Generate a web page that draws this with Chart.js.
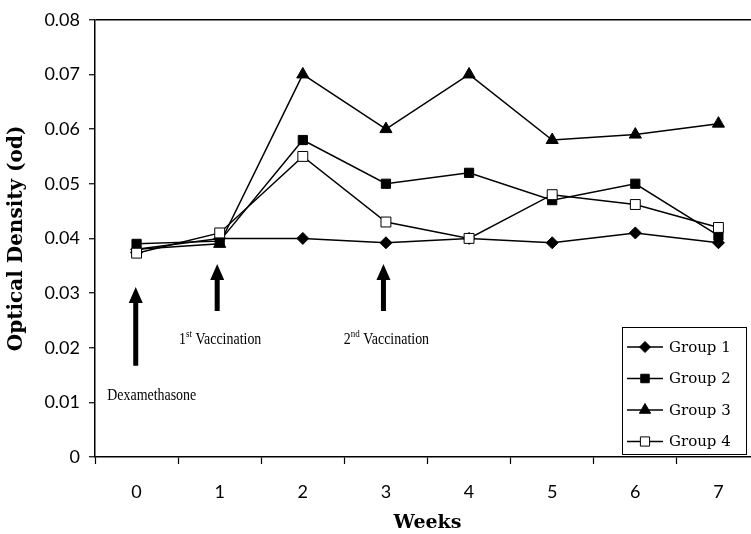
<!DOCTYPE html>
<html lang="en">
<head>
<meta charset="UTF-8">
<title>Optical Density by Week</title>
<script src="https://cdn.jsdelivr.net/npm/chart.js"></script>
<style>
  html, body { margin: 0; padding: 0; background: #fff; overflow: hidden; }
  #wrap { width: 770px; height: 534px; }
</style>
</head>
<body>
<div id="wrap"><canvas id="odChart"></canvas></div>
<script>
// data
const weeks = ['0', '1', '2', '3', '4', '5', '6', '7'];
const group1 = [0.0380, 0.0400, 0.0400, 0.0392, 0.0400, 0.0392, 0.0410, 0.0392];
const group2 = [0.0390, 0.0395, 0.0580, 0.0500, 0.0520, 0.0470, 0.0500, 0.0405];
const group3 = [0.0380, 0.0390, 0.0700, 0.0600, 0.0700, 0.0580, 0.0590, 0.0610];
const group4 = [0.0373, 0.0410, 0.0550, 0.0430, 0.0400, 0.0480, 0.0462, 0.0420];
const groupNames = ['Group 1', 'Group 2', 'Group 3', 'Group 4'];
const yTickLabels = ['0', '0.01', '0.02', '0.03', '0.04', '0.05', '0.06', '0.07', '0.08'];

// arrow annotations (week index, od values)
const noteMain = ['Dexamethasone', '1', '2'];
const noteSup = ['', 'st', 'nd'];
const noteRest = ['', ' Vaccination', ' Vaccination'];
const noteWeek = [-0.01, 0.97, 2.97];
const noteTip = [0.0311, 0.0353, 0.0353];
const noteTail = [0.0167, 0.0267, 0.0267];
const noteLabel = [0.0115, 0.0218, 0.0218];

const markers = [
  { style: 'rectRot', radius: 6, fill: '#000' },
  { style: 'rect', radius: 6.5, fill: '#000' },
  { style: 'triangle', radius: 7, fill: '#000' },
  { style: 'rect', radius: 7, fill: '#fff' }
];

const seriesData = [group1, group2, group3, group4];
const datasets = seriesData.map((vals, i) => ({
  label: groupNames[i],
  data: vals,
  borderColor: '#000',
  borderWidth: 1.5,
  backgroundColor: markers[i].fill,
  pointStyle: markers[i].style,
  pointRadius: markers[i].radius,
  pointBackgroundColor: markers[i].fill,
  pointBorderColor: '#000',
  pointBorderWidth: 1,
  tension: 0,
  fill: false,
  order: 3 - i
}));

function drawArrow(ctx, x, yTip, yTail) {
  const shaft = 5, headW = 14, headH = 16;
  ctx.beginPath();
  ctx.rect(x - shaft / 2, yTip + headH - 1, shaft, yTail - yTip - headH + 1);
  ctx.moveTo(x, yTip);
  ctx.lineTo(x + headW / 2, yTip + headH);
  ctx.lineTo(x - headW / 2, yTip + headH);
  ctx.closePath();
  ctx.fill();
}

const notesPlugin = {
  id: 'notes',
  afterDatasetsDraw(chart) {
    const ctx = chart.ctx;
    const xs = chart.scales.x, ys = chart.scales.y;
    const squeeze = 0.82;
    ctx.save();
    ctx.fillStyle = '#000';
    noteMain.forEach((txt, i) => {
      const x = xs.getPixelForValue(0) + noteWeek[i] * (xs.getPixelForValue(1) - xs.getPixelForValue(0));
      drawArrow(ctx, x, ys.getPixelForValue(noteTip[i]), ys.getPixelForValue(noteTail[i]));
      const ly = ys.getPixelForValue(noteLabel[i]);
      ctx.textBaseline = 'alphabetic';
      const big = '17px "Liberation Serif"', small = '11px "Liberation Serif"';
      ctx.font = big;
      const w1 = ctx.measureText(txt).width;
      const w3 = ctx.measureText(noteRest[i]).width;
      ctx.font = small;
      const w2 = ctx.measureText(noteSup[i]).width;
      const total = (w1 + w2 + w3) * squeeze;
      const startX = x + (i === 0 ? 16 : 3) - total / 2;
      ctx.save();
      ctx.translate(startX, 0);
      ctx.scale(squeeze, 1);
      let cx = 0;
      ctx.font = big;
      ctx.fillText(txt, cx, ly + 6);
      cx += w1;
      ctx.font = small;
      ctx.fillText(noteSup[i], cx, ly - 1);
      cx += w2;
      ctx.font = big;
      ctx.fillText(noteRest[i], cx, ly + 6);
      ctx.restore();
    });
    ctx.restore();
  }
};

const legendPlugin = {
  id: 'boxLegend',
  afterDraw(chart) {
    const ctx = chart.ctx;
    const bx = 622, by = 327, bw = 124, bh = 127, rowH = 31.5;
    ctx.save();
    ctx.fillStyle = '#fff';
    ctx.fillRect(bx, by, bw, bh);
    ctx.strokeStyle = '#000';
    ctx.lineWidth = 1;
    ctx.strokeRect(bx + 0.5, by + 0.5, bw, bh);
    chart.data.datasets.forEach((ds, i) => {
      const cy = by + 20 + i * rowH;
      ctx.beginPath();
      ctx.moveTo(bx + 5, cy);
      ctx.lineTo(bx + 41, cy);
      ctx.lineWidth = 1.5;
      ctx.strokeStyle = '#000';
      ctx.stroke();
      ctx.fillStyle = ds.pointBackgroundColor;
      ctx.lineWidth = 1;
      Chart.helpers.drawPoint(ctx, { pointStyle: ds.pointStyle, radius: ds.pointRadius - 0.5, borderWidth: 1 }, bx + 23, cy);
      ctx.fillStyle = '#000';
      ctx.font = '15px "DejaVu Serif"';
      ctx.textBaseline = 'middle';
      ctx.fillText(ds.label, bx + 47, cy + 1);
    });
    ctx.restore();
  }
};

new Chart(document.getElementById('odChart'), {
  type: 'line',
  data: { labels: weeks, datasets },
  options: {
    responsive: true,
    maintainAspectRatio: false,
    animation: false,
    layout: { padding: { left: 0, top: 16, right: 10, bottom: 0 } },
    plugins: { legend: { display: false }, tooltip: { enabled: false } },
    scales: {
      x: {
        type: 'category',
        offset: true,
        afterFit(s) { s.height = 77; },
        grid: { offset: true, color: 'rgba(0,0,0,0)', tickColor: '#000', tickLength: 7, tickWidth: 1.2 },
        border: { display: true, color: '#000', width: 1.5 },
        ticks: { color: '#000', font: { family: 'Lato', size: 18 }, padding: 17, maxRotation: 0 },
        title: { display: true, text: 'Weeks', color: '#000', font: { family: 'DejaVu Serif', size: 19, weight: 'bold' }, padding: { top: -4, bottom: 0 } }
      },
      y: {
        min: 0,
        max: 0.08,
        afterFit(s) { s.width = 95; },
        afterBuildTicks(s) { s.ticks = yTickLabels.map(t => ({ value: parseFloat(t) })); },
        grid: {
          color: c => (c.index === yTickLabels.length - 1 ? '#000' : 'rgba(0,0,0,0)'),
          lineWidth: 1.5,
          tickColor: '#000',
          tickLength: 6,
          tickWidth: 1.2
        },
        border: { display: true, color: '#000', width: 1.5 },
        ticks: {
          color: '#000',
          font: { family: 'Lato', size: 18 },
          padding: 9,
          callback: (v, i) => yTickLabels[i]
        },
        title: { display: true, text: 'Optical Density (od)', color: '#000', font: { family: 'DejaVu Serif', size: 20, weight: 'bold' }, padding: { top: 5, bottom: 0 } }
      }
    }
  },
  plugins: [notesPlugin, legendPlugin]
});
</script>
</body>
</html>
